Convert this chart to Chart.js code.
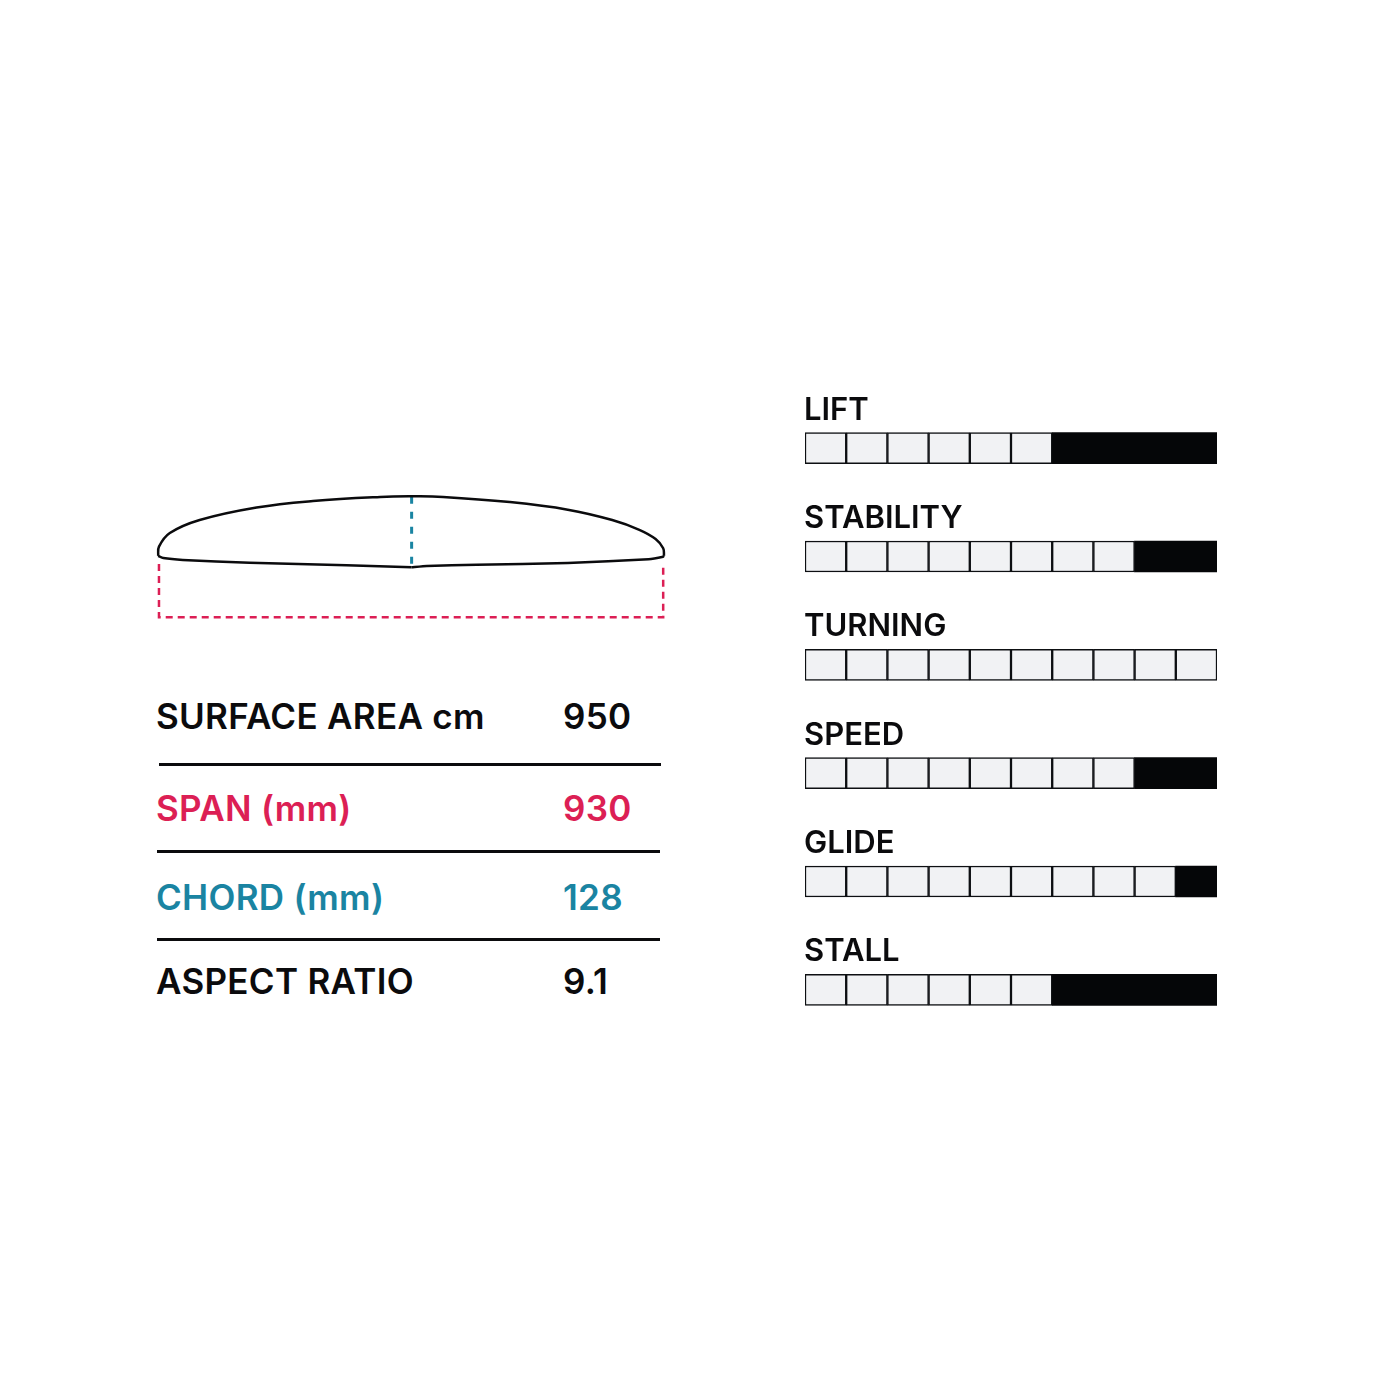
<!DOCTYPE html>
<html>
<head>
<meta charset="utf-8">
<title>Foil specs</title>
<script src="https://cdn.jsdelivr.net/npm/chart.js@4/dist/chart.umd.min.js"></script>
<style>
  html, body { margin: 0; padding: 0; background: #fff; }
  body { position: relative; width: 1400px; height: 1400px; overflow: hidden; }
  canvas { position: absolute; }
  #foilChart { left: 140px; top: 480px; }
  #ratingChart { left: 805px; top: 394px; }
  .spec { position: absolute; font: 600 35px Inter, sans-serif; letter-spacing: 0.3px; line-height: 40px; white-space: nowrap; }
  .rule { position: absolute; height: 3px; background: #0b0b0d; }
</style>
</head>
<body>
<canvas id="foilChart" width="540" height="150"></canvas>
<canvas id="ratingChart" width="412" height="650"></canvas>
<div id="specs"></div>
<script>
// spec table
const specNames = ['SURFACE AREA cm', 'SPAN (mm)', 'CHORD (mm)', 'ASPECT RATIO'];
const specValues = ['950', '930', '128', '9.1'];
const specColors = ['#0b0b0d', '#dc1f55', '#1a84a2', '#0b0b0d'];

// ratings, out of ten cells
const ratingNames = ['LIFT', 'STABILITY', 'TURNING', 'SPEED', 'GLIDE', 'STALL'];
const ratingValues = [6, 8, 10, 8, 9, 6];
const cellCount = 10;

// foil outline in mm, centre of the span is x = 0, tail tip is y = 0
const foilTop = [
  { x: -467.5, y: 21 }, { x: -466, y: 38 }, { x: -446, y: 63 }, { x: -391, y: 87 },
  { x: -286, y: 110 }, { x: -182, y: 122 }, { x: -58, y: 129.5 }, { x: 0, y: 130.5 },
  { x: 58, y: 129.5 }, { x: 181, y: 120 }, { x: 288, y: 106 }, { x: 370, y: 87 }, { x: 420, y: 69 },
  { x: 450, y: 52 }, { x: 464, y: 35 }, { x: 465.5, y: 21 }
];
const foilTailLeft = [
  { x: -467.5, y: 21 }, { x: -458, y: 17 }, { x: -422, y: 13.5 }, { x: -299, y: 8.5 },
  { x: -120, y: 3.7 }, { x: 0, y: 0 }
];
const foilTailRight = [
  { x: 0, y: 0 }, { x: 28, y: 2.5 }, { x: 120, y: 4.5 }, { x: 288, y: 8 },
  { x: 437, y: 14.8 }, { x: 464, y: 19.5 }, { x: 465.5, y: 21 }
];
const spanGuide = [{ x: -466, y: 6 }, { x: -466, y: -92 }, { x: 464, y: -92 }, { x: 464, y: 0 }];
const chordGuide = [{ x: 0, y: 130 }, { x: 0, y: 0 }];

// table text and the rules between the rows
const specTops = [696, 788, 877, 961];
specNames.forEach((name, i) => {
  const box = document.getElementById('specs');
  const left = document.createElement('div');
  left.className = 'spec';
  left.textContent = name;
  left.style.cssText = `left:156px;top:${specTops[i]}px;color:${specColors[i]}`;
  box.appendChild(left);
  const right = document.createElement('div');
  right.className = 'spec';
  right.textContent = specValues[i];
  right.style.cssText = `left:563px;top:${specTops[i]}px;color:${specColors[i]}`;
  box.appendChild(right);
});
[[159, 763, 502], [157, 850, 503], [157, 938, 503]].forEach(r => {
  const line = document.createElement('div');
  line.className = 'rule';
  line.style.cssText = `left:${r[0]}px;top:${r[1]}px;width:${r[2]}px`;
  document.getElementById('specs').appendChild(line);
});

function outline(data, tension) {
  return { data: data, borderColor: '#0b0b0d', borderWidth: 2.5, tension: tension, pointRadius: 0 };
}

new Chart(document.getElementById('foilChart'), {
  type: 'scatter',
  data: {
    datasets: [
      { data: spanGuide, borderColor: '#dc1f55', borderWidth: 2.5, borderDash: [7, 5], pointRadius: 0, showLine: true },
      outline(foilTop, 0.4),
      outline(foilTailLeft, 0.15),
      outline(foilTailRight, 0.15),
      { data: chordGuide, borderColor: '#1a84a2', borderWidth: 3, borderDash: [7, 8], pointRadius: 0, showLine: true }
    ]
  },
  options: {
    responsive: false,
    animation: false,
    showLine: true,
    plugins: { legend: { display: false }, tooltip: { enabled: false } },
    scales: {
      x: { type: 'linear', display: false, min: -501, max: 495 },
      y: { type: 'linear', display: false, min: -115.4, max: 160.6 }
    }
  }
});

// one stacked dataset per light cell, then a black bar for what is left of the row
const cellDatasets = [];
for (let c = 0; c < cellCount; c++) {
  cellDatasets.push({
    label: 'cell ' + (c + 1),
    data: ratingValues.map(v => c < v ? 1 : null),
    backgroundColor: '#f1f2f4',
    borderColor: '#0d0f12',
    borderWidth: 1.5,
    borderSkipped: false,
    barThickness: 31
  });
}
cellDatasets.push({
  label: 'rest',
  data: ratingValues.map(v => v < cellCount ? cellCount - v : null),
  backgroundColor: '#050608',
  borderWidth: 0,
  barThickness: 31
});

// rating names sit just above each bar
const barTitles = {
  id: 'barTitles',
  afterDatasetsDraw(chart) {
    const c = chart.ctx;
    c.save();
    c.font = '600 31px Inter, sans-serif';
    c.fillStyle = '#0b0b0d';
    c.textBaseline = 'alphabetic';
    ratingNames.forEach((name, i) => {
      c.fillText(name, chart.scales.x.left - 1, chart.scales.y.getPixelForValue(i) - 28.5);
    });
    c.restore();
  }
};

new Chart(document.getElementById('ratingChart'), {
  type: 'bar',
  data: { labels: ratingNames, datasets: cellDatasets },
  options: {
    indexAxis: 'y',
    responsive: false,
    animation: false,
    plugins: { legend: { display: false }, tooltip: { enabled: false } },
    scales: {
      x: { stacked: true, display: false, min: 0, max: cellCount },
      y: { stacked: true, display: false }
    }
  },
  plugins: [barTitles]
});
</script>
</body>
</html>
